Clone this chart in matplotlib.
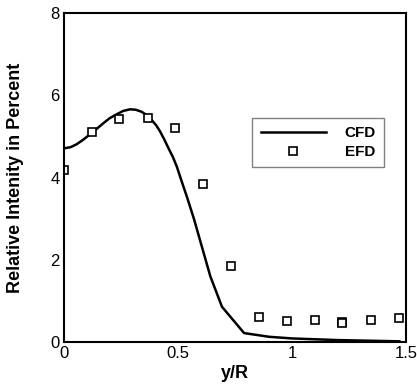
import numpy as np
import matplotlib
matplotlib.use('Agg')
import matplotlib.pyplot as plt

plt.rcParams['font.family'] = ['Liberation Sans', 'DejaVu Sans']

# CFD curve
cfd_x = [0.0, 0.03, 0.056, 0.085, 0.114, 0.143, 0.173, 0.2, 0.232, 0.26, 0.29,
         0.315, 0.341, 0.36, 0.385, 0.405, 0.422, 0.44, 0.459, 0.478, 0.495,
         0.517, 0.539, 0.57, 0.605, 0.642, 0.693, 0.79, 0.9, 1.0, 1.2, 1.47]
cfd_y = [4.71, 4.74, 4.81, 4.92, 5.05, 5.18, 5.32, 5.44, 5.54, 5.62, 5.66,
         5.65, 5.60, 5.53, 5.40, 5.27, 5.12, 4.93, 4.71, 4.50, 4.27,
         3.90, 3.54, 3.0, 2.32, 1.60, 0.86, 0.22, 0.13, 0.09, 0.05, 0.02]

# EFD measurements
efd_x = [0.0, 0.122, 0.243, 0.368, 0.488, 0.61, 0.734, 0.854, 0.976, 1.10,
         1.22, 1.22, 1.345, 1.467]
efd_y = [4.18, 5.12, 5.42, 5.46, 5.21, 3.84, 1.85, 0.60, 0.51, 0.55,
         0.50, 0.47, 0.53, 0.58]

fig = plt.figure(figsize=(4.17, 3.84), dpi=100)
ax = fig.add_axes([0.153, 0.109, 0.821, 0.857])

ax.plot(cfd_x, cfd_y, color='black', lw=1.8, label='CFD')
ax.plot(efd_x, efd_y, ls='none', marker='s', ms=6, mfc='white',
        mec='black', mew=1.2, label='EFD')

ax.set_xlim(0, 1.5)
ax.set_ylim(0, 8)
ax.set_xticks([0, 0.5, 1, 1.5])
ax.set_xticklabels(['0', '0.5', '1', '1.5'])
ax.set_yticks([0, 2, 4, 6, 8])
ax.tick_params(length=0, labelsize=12, pad=3)
for s in ax.spines.values():
    s.set_linewidth(1.5)

ax.set_xlabel('y/R', fontsize=13, fontweight='bold')
ax.set_ylabel('Relative Intenity in Percent', fontsize=13, fontweight='bold')
ax.xaxis.set_label_coords(0.5, -0.07)
ax.yaxis.set_label_coords(-0.117, 0.5)

leg = ax.legend(loc='upper left', bbox_to_anchor=(0.55, 0.681), borderaxespad=0,
                handlelength=4.3, fancybox=False, edgecolor='gray', framealpha=1,
                borderpad=0.55, handletextpad=1.2, labelspacing=0.3,
                prop={'weight': 'bold', 'size': 11})

fig.savefig('out.png', dpi=100)
